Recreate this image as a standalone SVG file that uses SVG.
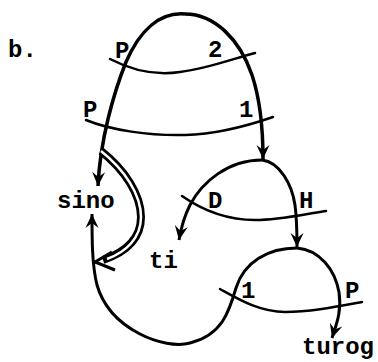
<svg xmlns="http://www.w3.org/2000/svg" width="378" height="362" viewBox="0 0 378 362">
<style>
.t{font-family:"Liberation Mono","Courier New",monospace;font-weight:bold;font-size:24px;fill:#000}
.c{fill:none;stroke:#000;stroke-width:3;stroke-linecap:butt}
.x{fill:none;stroke:#000;stroke-width:2.5;stroke-linecap:round}
</style>
<defs>
<marker id="ah" viewBox="-15 -8 17 16" refX="0" refY="0" markerWidth="17" markerHeight="16" orient="auto" markerUnits="userSpaceOnUse">
<path d="M-14,-6.5 L0,0 L-14,6.5 L-9,0 z" fill="#000"/>
</marker>
</defs>
<rect width="378" height="362" fill="#fff"/>
<text class="t" x="8" y="57">b.</text>
<g id="connectors">
<path class="c" style="stroke-width:3.5" d="M185,14 C160,12 140,30 126,62 C114,92 100,140 98,186" marker-end="url(#ah)"/>
<path class="c" style="stroke-width:3.5" d="M185,14 C215,14 240,40 252,75 C262,105 263,135 263,159" marker-end="url(#ah)"/>
<path class="x" d="M110,59 C135,72 160,75 180,72 C210,68 235,58 255,53"/>
<path class="x" d="M86,120 C110,130 150,136 185,135 C220,134 250,125 273,117"/>
<path class="c" d="M262,160 C228,160 202,182 190,205 C185,215 181,228 179,240" marker-end="url(#ah)"/>
<path class="c" d="M262,160 C280,162 292,185 295,205 C297,220 297,235 297,247" marker-end="url(#ah)"/>
<path class="x" d="M182,196 C205,212 230,220 255,220 C280,220 305,214 326,211"/>
<path class="c" d="M297,248 C268,248 244,262 236,288 C229,312 222,335 190,343 C165,350 110,330 97,285 C92,265 92,240 92,214" marker-end="url(#ah)"/>
<path class="c" d="M297,248 C320,250 335,270 339,292 C342,312 336,325 332,338" marker-end="url(#ah)"/>
<path class="x" d="M220,289 C240,300 260,312 285,312 C310,312 335,307 362,302"/>
<g id="double">
<path d="M101,151 C125,170 141,195 141,217 C141,238 126,252 103,260" fill="none" stroke="#000" stroke-width="8"/>
<path d="M101,151 C125,170 141,195 141,217 C141,238 126,252 107,259" fill="none" stroke="#fff" stroke-width="2.5"/>
<path d="M112,252 L95,262 L115,270" fill="none" stroke="#000" stroke-width="3" stroke-linejoin="miter"/>
</g>
</g>
<g id="n-sino"><text class="t" x="57" y="208">sino</text></g>
<g id="n-ti"><text class="t" x="149" y="268">ti</text></g>
<g id="n-turog"><text class="t" x="302" y="354">turog</text></g>
<g id="labels">
<text class="t" x="115" y="58">P</text>
<text class="t" x="208" y="57">2</text>
<text class="t" x="83" y="117">P</text>
<text class="t" x="239" y="117">1</text>
<text class="t" x="208" y="208">D</text>
<text class="t" x="299" y="208">H</text>
<text class="t" x="241" y="298">1</text>
<text class="t" x="345" y="298">P</text>
</g>
</svg>
